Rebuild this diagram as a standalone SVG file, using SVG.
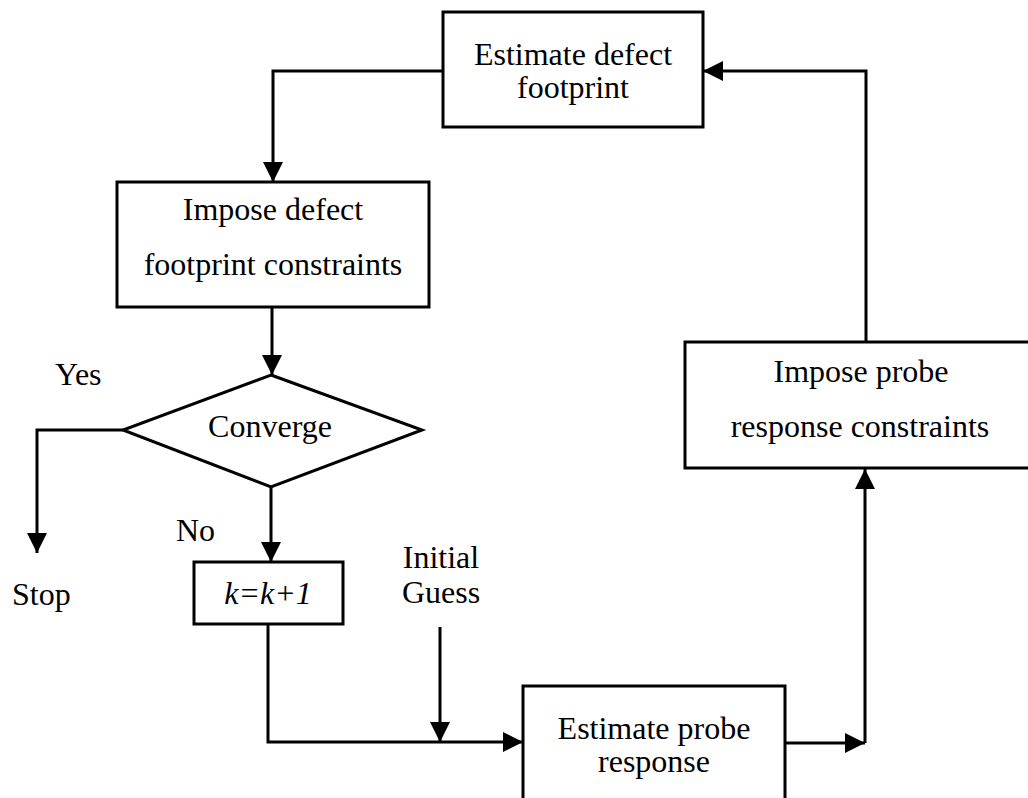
<svg xmlns="http://www.w3.org/2000/svg" width="1028" height="798" viewBox="0 0 1028 798">
  <style>
    .box { fill: #ffffff; stroke: #000000; stroke-width: 3; }
    .lbl { font-family: "Liberation Serif", "Times New Roman", serif; font-size: 32px; fill: #000000; }
    .mid { text-anchor: middle; }
    .wire { fill: none; stroke: #000000; stroke-width: 3; }
  </style>
  <defs>
    <marker id="arrow" markerUnits="userSpaceOnUse" markerWidth="22" markerHeight="22" refX="20" refY="10" orient="auto">
      <path d="M0,0 L20,10 L0,20 Z" fill="#000000"/>
    </marker>
  </defs>
  <rect width="1028" height="798" fill="#ffffff"/>

  <!-- connectors -->
  <g id="connectors">
    <path class="wire" d="M443,71 H273 V182" marker-end="url(#arrow)"/>
    <path class="wire" d="M272,307 V375" marker-end="url(#arrow)"/>
    <path class="wire" d="M123,430 H37 V553" marker-end="url(#arrow)"/>
    <path class="wire" d="M271,487 V562" marker-end="url(#arrow)"/>
    <path class="wire" d="M268,624 V742 H523" marker-end="url(#arrow)"/>
    <path class="wire" d="M440,627 V742" marker-end="url(#arrow)"/>
    <path class="wire" d="M785,743 H865" marker-end="url(#arrow)"/>
    <path class="wire" d="M865,743 V469" marker-end="url(#arrow)"/>
    <path class="wire" d="M866,342 V71 H703" marker-end="url(#arrow)"/>
  </g>

  <!-- nodes -->
  <g id="estimate-defect">
    <rect class="box" x="443" y="12" width="260" height="115"/>
    <text class="lbl mid" x="573" y="65">Estimate defect</text>
    <text class="lbl mid" x="573" y="98">footprint</text>
  </g>

  <g id="impose-defect">
    <rect class="box" x="117" y="182" width="312" height="125"/>
    <text class="lbl mid" x="273" y="220">Impose defect</text>
    <text class="lbl mid" x="273" y="275">footprint constraints</text>
  </g>

  <g id="converge">
    <polygon class="box" points="271,375 422,430 271,487 123,430"/>
    <text class="lbl mid" x="270" y="437">Converge</text>
  </g>

  <g id="yes-label">
    <text class="lbl" x="55" y="385">Yes</text>
  </g>
  <g id="no-label">
    <text class="lbl" x="176" y="541">No</text>
  </g>
  <g id="stop">
    <text class="lbl" x="12" y="605">Stop</text>
  </g>

  <g id="increment">
    <rect class="box" x="194" y="562" width="149" height="62"/>
    <text class="lbl mid" x="268" y="604" font-style="italic">k=k+1</text>
  </g>

  <g id="initial-guess">
    <text class="lbl mid" x="441" y="568">Initial</text>
    <text class="lbl mid" x="441" y="603">Guess</text>
  </g>

  <g id="estimate-probe">
    <rect class="box" x="523" y="686" width="262" height="130"/>
    <text class="lbl mid" x="654" y="739">Estimate probe</text>
    <text class="lbl mid" x="654" y="772">response</text>
  </g>

  <g id="impose-probe">
    <rect class="box" x="685" y="342" width="352" height="126"/>
    <text class="lbl mid" x="861" y="382">Impose probe</text>
    <text class="lbl mid" x="860" y="437">response constraints</text>
  </g>
</svg>
